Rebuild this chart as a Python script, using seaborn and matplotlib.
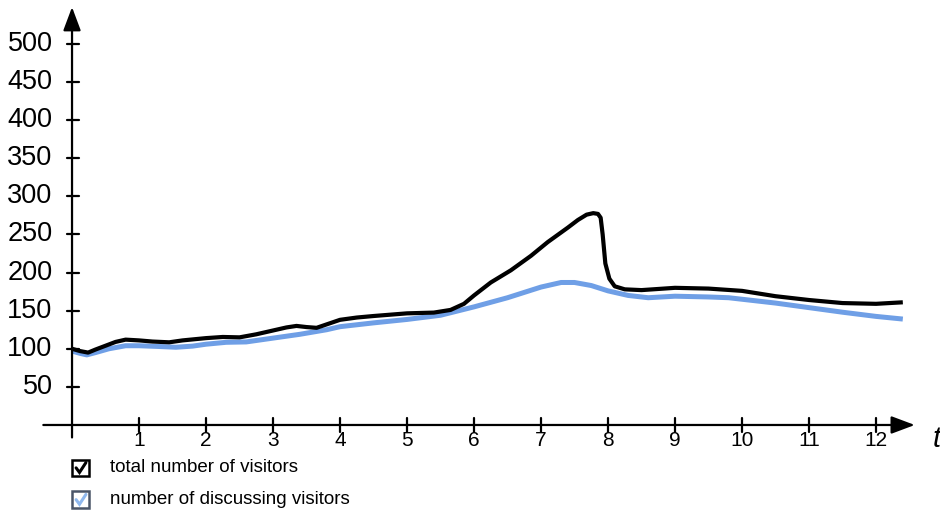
import numpy as np
import pandas as pd
import matplotlib
matplotlib.use("Agg")
import matplotlib.pyplot as plt
from matplotlib.lines import Line2D
import seaborn as sns

# values
t_total = [0.0, 0.12, 0.24, 0.35, 0.5, 0.65, 0.8, 1.0, 1.2, 1.45, 1.65, 2.0, 2.25, 2.5,
           2.75, 3.0, 3.2, 3.35, 3.5, 3.65, 3.8, 4.0, 4.25, 4.5, 5.0, 5.4, 5.65, 5.85,
           6.0, 6.25, 6.55, 6.85, 7.1, 7.4, 7.55, 7.68, 7.78, 7.85, 7.89, 7.92, 7.96, 8.02,
           8.1, 8.25, 8.5, 9.0, 9.5, 10.0, 10.5, 11.0, 11.5, 12.0, 12.4]
total_visitors = [100, 97, 95, 99, 104, 109, 112, 111, 109.5, 108.5, 111, 114, 115.5, 115,
                  119, 124, 128, 130, 128.5, 127.5, 132, 138, 141, 143, 146.5, 147.5, 151, 159,
                  170, 187, 203, 222, 240, 259, 269, 276, 278, 277, 272, 250, 212, 192,
                  182, 178, 177, 180, 179, 176, 169, 164, 160, 159, 161]

t_disc = [0.0, 0.12, 0.22, 0.35, 0.55, 0.8, 1.0, 1.3, 1.55, 1.8, 2.0, 2.3, 2.6, 3.0,
          3.4, 3.8, 4.0, 4.5, 5.0, 5.5, 6.0, 6.5, 7.0, 7.3, 7.5, 7.75, 8.0, 8.3, 8.6,
          9.0, 9.5, 9.8, 10.0, 10.5, 11.0, 11.5, 12.0, 12.4]
discussing_visitors = [97, 94, 92, 95, 100, 104, 104, 103, 102, 103.5, 106, 108.5, 109, 114,
                       119, 125, 129, 134, 138.5, 144, 155, 167, 181, 187, 187, 183, 176, 170, 167,
                       169, 168, 167, 165, 160, 154, 148, 142.5, 139]

x_ticks = list(range(1, 13))
y_ticks = [50, 100, 150, 200, 250, 300, 350, 400, 450, 500]

labels = ["total number of visitors", "number of discussing visitors"]

df = pd.concat([
    pd.DataFrame({"t": t_disc, "v": discussing_visitors, "series": labels[1]}),
    pd.DataFrame({"t": t_total, "v": total_visitors, "series": labels[0]}),
])

sns.set_theme(style="white")
plt.rcParams["font.family"] = ["Liberation Sans", "DejaVu Sans"]
plt.rcParams["text.color"] = "black"

fig = plt.figure(figsize=(9.4, 5.13), dpi=100)
ax = fig.add_axes([0, 0, 1, 1])
ax.set_xlim(-1.075, 12.955)
ax.set_ylim(-115.5, 557.7)
ax.axis("off")

blue = "#6f9fe6"
sns.lineplot(data=df, x="t", y="v", hue="series", estimator=None, sort=False,
             palette={labels[0]: "black", labels[1]: blue}, legend=False, ax=ax)
# blue line first, black on top
for line, lw in zip(ax.lines, [3.6, 3.0]):
    line.set_linewidth(lw)
    line.set_solid_joinstyle("round")
    line.set_solid_capstyle("butt")

# axes with arrows
ax.annotate("", xy=(12.62, 0), xytext=(-0.47, 0),
            arrowprops=dict(arrowstyle="-|>,head_length=1.2,head_width=0.45", color="black", lw=1.6))
ax.annotate("", xy=(0, 552), xytext=(0, -20),
            arrowprops=dict(arrowstyle="-|>,head_length=1.2,head_width=0.45", color="black", lw=1.6))

for xt in x_ticks:
    ax.plot([xt, xt], [-9, 9], color="black", lw=1.6)
    ax.text(xt, -20, str(xt), ha="center", va="center", fontsize=15, color="black")
for yt in y_ticks:
    ax.plot([-0.08, 0.1], [yt, yt], color="black", lw=1.6)
    ax.text(-0.29, yt, str(yt), ha="right", va="center", fontsize=19.5, color="black")

ax.text(12.9, -19, "t", ha="center", va="center", fontsize=21, style="italic", color="black")

# legend with check boxes
bx, bw, bh = 0.077, 0.018, 0.032
for i, (lab, col) in enumerate(zip(labels, ["black", "#8fb8ee"])):
    y = 0.088 - i * 0.062
    edge = "black" if i == 0 else "#4a5568"
    fig.patches.append(plt.Rectangle((bx, y - bh / 2), bw, bh, transform=fig.transFigure,
                                     fill=False, edgecolor=edge, lw=1.8))
    cx = [bx + 0.22 * bw, bx + 0.42 * bw, bx + 0.8 * bw]
    cy = [y - bh / 2 + 0.5 * bh, y - bh / 2 + 0.22 * bh, y - bh / 2 + 0.82 * bh]
    fig.add_artist(Line2D(cx, cy, transform=fig.transFigure, color=col, lw=2.2,
                          solid_joinstyle="miter"))
    fig.text(0.117, y, lab, ha="left", va="center", fontsize=13.5, color="black")

fig.savefig("out.png", dpi=100, facecolor="white")
